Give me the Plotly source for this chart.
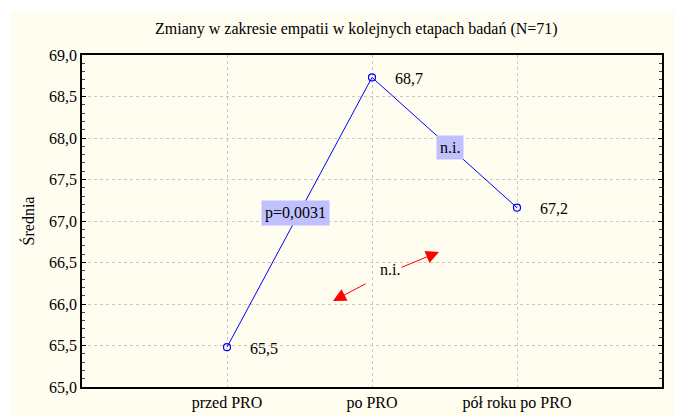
import plotly.graph_objects as go

categories = ["przed PRO", "po PRO", "pół roku po PRO"]
means = [65.48, 68.73, 67.16]
y_ticks = [65.0, 65.5, 66.0, 66.5, 67.0, 67.5, 68.0, 68.5, 69.0]
y_tick_labels = [f"{v:.1f}".replace(".", ",") for v in y_ticks]
title = "Zmiany w zakresie empatii w kolejnych etapach badań (N=71)"
y_title = "Średnia"

FONT = "Liberation Serif, Times New Roman, serif"
FS = 16
xs = list(range(len(categories)))

fig = go.Figure()
fig.add_trace(go.Scatter(
    x=xs, y=means, mode="lines+markers",
    line=dict(color="#0000FF", width=1),
    marker=dict(symbol="circle-open", size=7, color="#0000FF", line=dict(width=1.2)),
    showlegend=False, hoverinfo="skip",
))

annotations = []
for x, v in zip(xs, means):
    annotations.append(dict(
        x=x, y=v, xref="x", yref="y", text=f"{v:.1f}".replace(".", ","),
        showarrow=False, xanchor="left", xshift=21, yshift=-1,
        font=dict(family=FONT, size=FS, color="black"),
    ))

# significance boxes
annotations.append(dict(
    x=0.47, y=67.10, xref="x", yref="y", text="p=0,0031", showarrow=False,
    bgcolor="#C0C0FF", borderpad=3,
    font=dict(family=FONT, size=FS, color="black"),
))
annotations.append(dict(
    x=1.54, y=67.88, xref="x", yref="y", text="n.i.", showarrow=False,
    bgcolor="#C0C0FF", borderpad=3,
    font=dict(family=FONT, size=FS, color="black"),
))
annotations.append(dict(
    x=1.124, y=66.41, xref="x", yref="y", text="n.i.", showarrow=False,
    font=dict(family=FONT, size=FS, color="black"),
))
# red arrows
for (hx, hy, tx, ty) in [(0.731, 66.036, 0.966, 66.253), (1.462, 66.627, 1.193, 66.434)]:
    annotations.append(dict(
        x=hx, y=hy, ax=tx, ay=ty, xref="x", yref="y", axref="x", ayref="y",
        text="", showarrow=True, arrowhead=2, arrowsize=2.6, arrowwidth=1,
        arrowcolor="#FF0000",
    ))

annotations.append(dict(
    x=0.474, y=1.0, xref="paper", yref="paper", yshift=26, text=title,
    showarrow=False, xanchor="center", yanchor="middle",
    font=dict(family=FONT, size=FS, color="black"),
))

fig.update_layout(
    width=682, height=417,
    margin=dict(l=74, r=28, t=47, b=38),
    paper_bgcolor="white",
    plot_bgcolor="white",
    annotations=annotations,
    shapes=[dict(
        type="rect", xref="paper", yref="paper", layer="below",
        x0=-0.124, x1=1.2, y0=-0.2, y1=1.1355,
        fillcolor="#FFFCF0", line=dict(width=0),
    )],
    font=dict(family=FONT, size=FS, color="black"),
)
fig.update_xaxes(
    range=[-1, 3], tickmode="array", tickvals=xs, ticktext=categories,
    showgrid=True, gridcolor="#C8C8C8", griddash="dot", gridwidth=1,
    showline=True, linecolor="black", linewidth=1.5, mirror=True,
    ticks="", zeroline=False, tickfont=dict(family=FONT, size=FS),
)
fig.update_yaxes(
    range=[65, 69], tickmode="array", tickvals=y_ticks, ticktext=y_tick_labels,
    showgrid=True, gridcolor="#C8C8C8", griddash="dot", gridwidth=1,
    showline=True, linecolor="black", linewidth=1.5, mirror="allticks",
    ticks="inside", ticklen=4, tickcolor="black",
    minor=dict(dtick=0.1, ticks="inside", ticklen=3, tickcolor="#444", showgrid=False),
    zeroline=False, tickfont=dict(family=FONT, size=FS),
    title=dict(text=y_title, font=dict(family=FONT, size=FS), standoff=10),
)

fig.write_html("out.html")
